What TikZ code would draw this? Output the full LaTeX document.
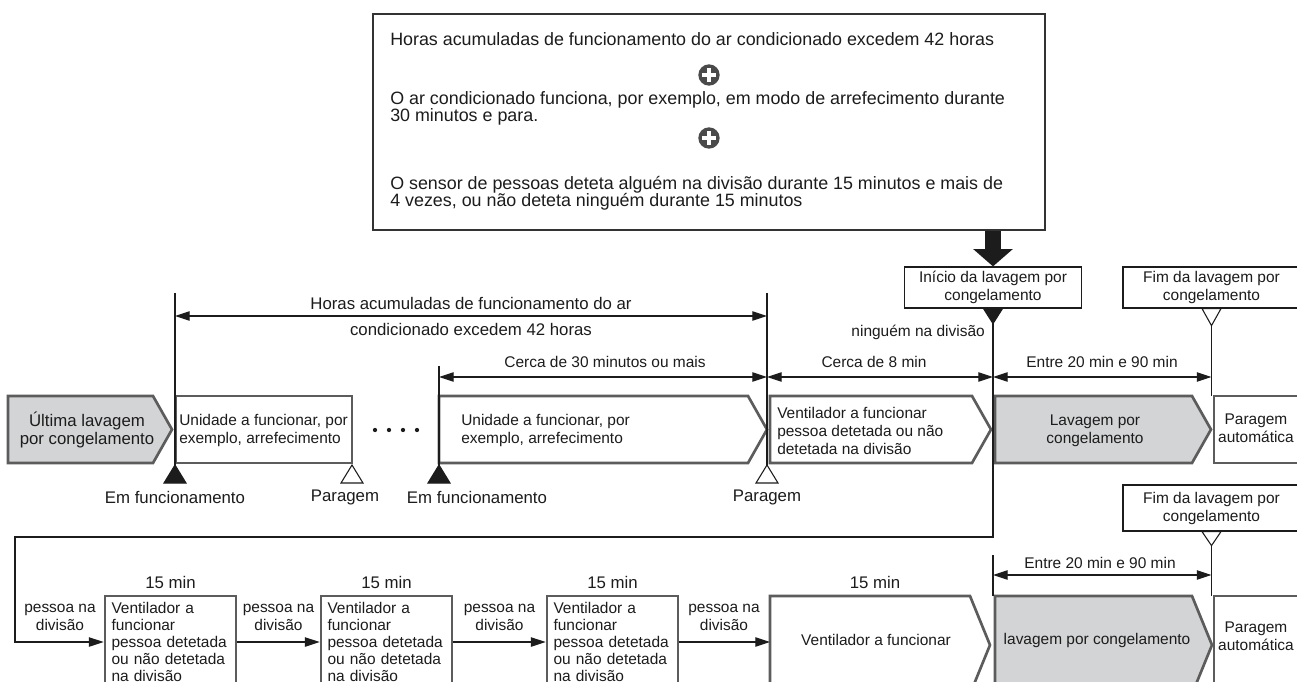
\documentclass[tikz,border=0pt]{standalone}
\usepackage{fontspec}
\setmainfont{Liberation Sans}
\usetikzlibrary{arrows.meta,positioning,calc}
\definecolor{ink}{HTML}{1C1C1C}
\definecolor{edge}{HTML}{5C5C5C}
\definecolor{shade}{HTML}{D3D4D5}
\definecolor{plusc}{HTML}{4A4A4A}
\tikzset{
  lbl/.style={font=\fontsize{11.6}{13.5}\selectfont,text=ink,inner sep=0pt,align=center},
  big/.style={lbl,font=\fontsize{12.6}{14}\selectfont},
  lft/.style={lbl,align=left},
  note/.style={lbl,align=left,font=\fontsize{13.4}{13}\selectfont},
  stage/.style={draw=edge,fill=#1,line width=2pt,line join=miter},
  stage/.default=white,
  cell/.style={draw=edge,fill=white,line width=2pt,minimum width=98.25pt,minimum height=69pt,
    text width=88.5pt,align=left,inner xsep=4.9pt,font=\fontsize{11.6}{12.9}\selectfont,text=ink},
  tag/.style={draw=ink,fill=white,line width=0.9pt,minimum width=132.75pt,align=center,
    font=\fontsize{11.6}{13.5}\selectfont,text=ink,inner sep=0pt},
  panel/.style={draw=ink!90,line width=1.4pt,fill=white,minimum width=504pt,minimum height=162pt},
  plus/.style={circle,fill=plusc,minimum size=16pt,inner sep=0pt,
    path picture={\draw[white,line width=3pt]
      ([xshift=-5pt]path picture bounding box.center) -- ([xshift=5pt]path picture bounding box.center)
      ([yshift=-5pt]path picture bounding box.center) -- ([yshift=5pt]path picture bounding box.center);}},
  tickl/.style={draw=ink,line width=0.9pt},
  dim/.style={tickl,{Triangle[length=11pt,width=7pt]}-{Triangle[length=11pt,width=7pt]}},
  arr/.style={tickl,-{Triangle[length=11pt,width=7pt]}},
  flag/.style={draw=ink,line width=0.8pt,fill=#1},
}

\begin{document}
\begin{tikzpicture}[x=0.75pt,y=-0.75pt]
  \useasboundingbox (0,0) rectangle (1297,682);
  \clip (0,0) rectangle (1297,682);
  \fill[white] (0,0) rectangle (1297,682);

  % conditions
  \node[panel] (cond) at (709,122) {};
  \node[note,anchor=west] (condA) at (390,39) {Horas acumuladas de funcionamento do ar condicionado excedem 42 horas};
  \node[plus] (plusA) at (709,75) {};
  \node[note,anchor=west] (condB) at (390,108.5) {O ar condicionado funciona, por exemplo, em modo de arrefecimento durante\\30 minutos e para.};
  \node[plus] (plusB) at (709,138) {};
  \node[note,anchor=west] (condC) at (390,193) {O sensor de pessoas deteta alguém na divisão durante 15 minutos e mais de\\4 vezes, ou não deteta ninguém durante 15 minutos};

  \node[tag,minimum height=30.75pt] (start) at (993,287.5) {Início da lavagem por\\congelamento};
  \node[tag,minimum height=30.75pt] (endA) at (1211.5,287.5) {Fim da lavagem por\\congelamento};
  \draw[ink,line width=12pt,-{Triangle[length=13pt,width=29pt]}] (cond.south -| start) -- (start.north);

  % upper row
  \foreach \a/\b/\c in {8/153/shade,439/748/white,770/972/white,995/1192/shade}
    \draw[stage=\c] (\a,396) -- (\b,396) -- (\b+19,429.5) -- (\b,463) -- (\a,463) -- cycle;
  \draw[stage] (176,396) rectangle (352,463);
  \draw[stage] (1214,396) rectangle (1320,463);
  \foreach \x in {375,389,403,417} \fill[ink] (\x,430) circle (1.6pt);

  \node[big] (lastwash) at (87,430) {Última lavagem\\por congelamento};
  \node[lft,anchor=west] (unitA) at (179,430) {Unidade a funcionar, por\\exemplo, arrefecimento};
  \node[lft,anchor=west] (unitB) at (461,430) {Unidade a funcionar, por\\exemplo, arrefecimento};
  \node[lft,anchor=west] (fanA) at (777,431) {Ventilador a funcionar\\pessoa detetada ou não\\detetada na divisão};
  \node[lbl] (washA) at (1095,431) {Lavagem por\\congelamento};
  \node[lbl] (autoA) at (1256,428) {Paragem\\automática};

  \draw[tickl] (175,293) -- (175,465);
  \draw[tickl] (439,366) -- (439,465);
  \draw[tickl] (767,293) -- (767,465);
  \draw[tickl] (1211.5,325) -- (1211.5,396);
  \foreach \x/\c in {175/ink,352/white,439/ink,767/white}
    \draw[flag=\c] (\x,465) -- ++(11,18) -- ++(-22,0) -- cycle;
  \draw[flag=ink] (start.south) ++(-9.5,0) -- ++(19,0) -- ++(-9.5,15) -- cycle;
  \draw[flag=white] (endA.south) ++(-9.5,0) -- ++(19,0) -- ++(-9.5,17) -- cycle;

  \node[big] (runA) at (175,497) {Em funcionamento};
  \node[big] (stopA) at (345,497) {Paragem};
  \node[big] (runB) at (477,497) {Em funcionamento};
  \node[big] (stopB) at (767,497) {Paragem};

  \draw[dim] (175,316) -- (767,316);
  \node[big] (hours) at (471,316) {Horas acumuladas de funcionamento do ar\\[5.5pt]condicionado excedem 42 horas};
  \draw[dim] (439,377) -- (767,377);
  \node[lbl] (thirty) at (605,362) {Cerca de 30 minutos ou mais};
  \draw[dim] (767,377) -- (993,377);
  \node[lbl] (eight) at (874,362) {Cerca de 8 min};
  \node[lbl,anchor=east] (nobody) at (985,332) {ninguém na divisão};
  \draw[dim] (993,377) -- (1211.5,377);
  \node[lbl] (spanA) at (1102,362) {Entre 20 min e 90 min};

  % lower row
  \node[cell] (fanB) at (170.5,642) {Ventilador a\\funcionar\\pessoa detetada\\ou não detetada\\na divisão};
  \node[cell] (fanC) at (386.5,642) {Ventilador a\\funcionar\\pessoa detetada\\ou não detetada\\na divisão};
  \node[cell] (fanD) at (612.5,642) {Ventilador a\\funcionar\\pessoa detetada\\ou não detetada\\na divisão};
  \foreach \a/\b/\c in {770/970/white,995/1192/shade}
    \draw[stage=\c] (\a,596) -- (\b,596) -- (\b+20,645) -- (\b,694) -- (\a,694) -- cycle;
  \draw[stage] (1214,596) rectangle (1320,694);
  \coordinate (boxE) at (770,642);
  \coordinate (turn) at (15,537);

  \draw[arr] (start.south) |- (turn) |- (fanB.west);
  \draw[arr] (fanB) -- (fanC);
  \draw[arr] (fanC) -- (fanD);
  \draw[arr] (fanD) -- (boxE);

  \node[lbl] (gapA) at (60,617) {pessoa na\\divisão};
  \node[lbl] (gapB) at (278.5,617) {pessoa na\\divisão};
  \node[lbl] (gapC) at (499.5,617) {pessoa na\\divisão};
  \node[lbl] (gapD) at (724,617) {pessoa na\\divisão};
  \foreach \x [count=\i] in {170.5,386.5,612.5,875}
    \node[big] (quarter\i) at (\x,582) {15 min};

  \node[lbl] (fanE) at (876,640) {Ventilador a funcionar};
  \node[lbl] (washB) at (1097,640) {lavagem por congelamento};
  \node[lbl] (autoB) at (1256,636) {Paragem\\automática};

  \node[tag,minimum height=34.5pt] (endB) at (1211.5,508) {Fim da lavagem por\\congelamento};
  \draw[flag=white] (endB.south) ++(-9.5,0) -- ++(19,0) -- ++(-9.5,14) -- cycle;
  \draw[tickl] (1211.5,545) -- (1211.5,596);
  \draw[tickl] (993,555) -- (993,596);
  \draw[dim] (993,575) -- (1211.5,575);
  \node[lbl] (spanB) at (1100,563) {Entre 20 min e 90 min};
\end{tikzpicture}
\end{document}
